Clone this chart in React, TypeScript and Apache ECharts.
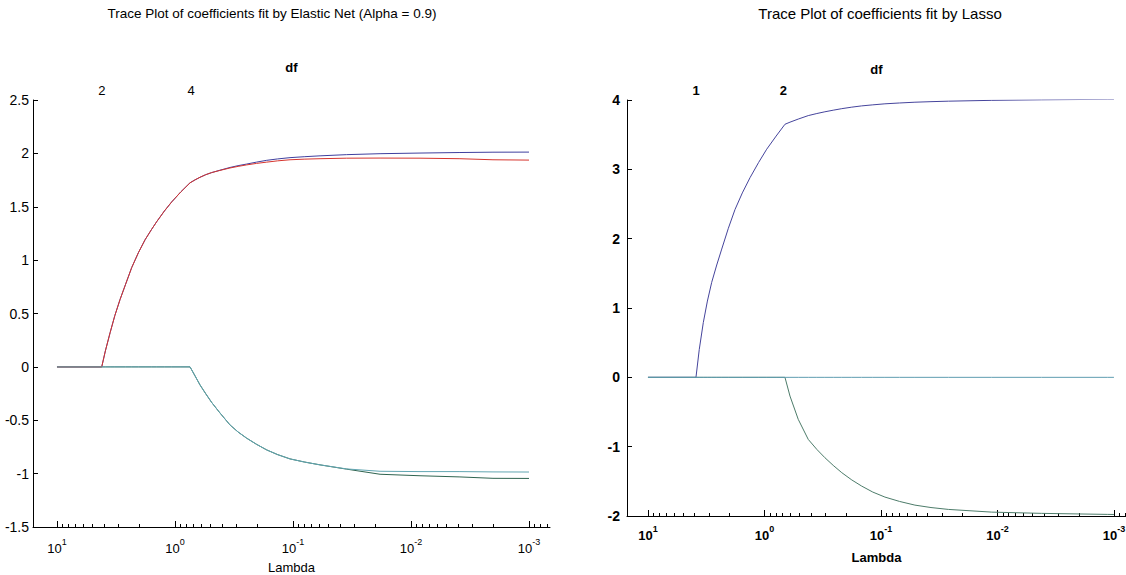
import React, { useEffect, useRef } from "react";
import * as echarts from "echarts";

const FONT = "'Liberation Sans', Arial, sans-serif";

// ---------- Left panel: Elastic Net (Alpha = 0.9) ----------
const lambdaEN = [10, 4.178, 3.89, 3.548, 3.236, 2.924, 2.63, 2.328, 2.042, 1.795, 1.585, 1.429, 1.23, 1.067, 0.891, 0.746, 0.676, 0.614, 0.55, 0.489, 0.417, 0.342, 0.292, 0.247, 0.204, 0.167, 0.135, 0.106, 0.0794, 0.059, 0.0351, 0.0183, 0.00839, 0.00385, 0.00202, 0.001];
const enBlue = [0, 0, 0.15, 0.32, 0.48, 0.63, 0.77, 0.93, 1.07, 1.19, 1.285, 1.36, 1.46, 1.545, 1.64, 1.724, 1.752, 1.776, 1.8, 1.82, 1.842, 1.868, 1.885, 1.9, 1.918, 1.935, 1.948, 1.96, 1.969, 1.977, 1.988, 1.997, 2.003, 2.008, 2.011, 2.012];
const enRed = [0, 0, 0.15, 0.32, 0.48, 0.63, 0.77, 0.93, 1.07, 1.19, 1.285, 1.36, 1.46, 1.545, 1.64, 1.724, 1.752, 1.776, 1.8, 1.82, 1.84, 1.863, 1.878, 1.892, 1.906, 1.918, 1.93, 1.94, 1.946, 1.95, 1.955, 1.956, 1.955, 1.95, 1.94, 1.937];
const enGreen = [0, 0, 0, 0, 0, 0, 0, 0, 0, 0, 0, 0, 0, 0, 0, 0, -0.085, -0.169, -0.25, -0.333, -0.43, -0.544, -0.61, -0.668, -0.725, -0.778, -0.822, -0.862, -0.892, -0.918, -0.958, -1.006, -1.02, -1.031, -1.044, -1.045];
const enCyan = [0, 0, 0, 0, 0, 0, 0, 0, 0, 0, 0, 0, 0, 0, 0, 0, -0.085, -0.169, -0.25, -0.333, -0.43, -0.544, -0.61, -0.668, -0.725, -0.778, -0.822, -0.862, -0.892, -0.918, -0.956, -0.978, -0.981, -0.981, -0.984, -0.985];
const dfLambdaEN = [4.2, 4.16, 0.731];
const dfLabelsEN = ["1", "2", "4"];

// ---------- Right panel: Lasso ----------
const lambdaLasso = [10, 3.873, 3.631, 3.35, 3.09, 2.838, 2.57, 2.328, 2.042, 1.791, 1.549, 1.33, 1.122, 0.957, 0.794, 0.667, 0.604, 0.513, 0.421, 0.355, 0.303, 0.257, 0.217, 0.178, 0.1466, 0.1175, 0.0925, 0.0692, 0.0511, 0.0372, 0.0264, 0.0112, 0.00418, 0.00113, 0.001];
const lassoBlue = [0, 0, 0.4, 0.79, 1.1, 1.37, 1.62, 1.85, 2.15, 2.42, 2.66, 2.88, 3.1, 3.29, 3.48, 3.65, 3.68, 3.725, 3.775, 3.805, 3.83, 3.853, 3.875, 3.897, 3.915, 3.93, 3.945, 3.957, 3.968, 3.976, 3.983, 3.995, 4.003, 4.01, 4.01];
const lassoGreen = [0, 0, 0, 0, 0, 0, 0, 0, 0, 0, 0, 0, 0, 0, 0, 0, -0.27, -0.606, -0.895, -1.04, -1.159, -1.27, -1.375, -1.48, -1.568, -1.655, -1.727, -1.79, -1.843, -1.878, -1.905, -1.944, -1.962, -1.977, -1.978];
const lassoCyan = [0, 0, 0, 0, 0, 0, 0, 0, 0, 0, 0, 0, 0, 0, 0, 0, 0, 0, 0, 0, 0, 0, 0, 0, 0, 0, 0, 0, 0, 0, 0, 0, 0, 0, 0];
const dfLambdaLasso = [3.87, 0.69];
const dfLabelsLasso = ["1", "2"];

// ---------- Axis ticks ----------
const xMajorTicks = [10, 1, 0.1, 0.01, 0.001];
const xMajorExp = ["1", "0", "-1", "-2", "-3"];
const xMinorMantissa = [2, 3, 4, 5, 6, 7, 8, 9];
const xMinorDecades = [1, 0.1, 0.01, 0.001, 0.0001];
const xMinorTicks: number[] = [];
xMinorDecades.forEach((d) => xMinorMantissa.forEach((m) => xMinorTicks.push(+(m * d).toPrecision(3))));

const COLORS = {
  blue: "#3f3f9e",
  red: "#d6352e",
  green: "#2f6450",
  cyan: "#62a6b2",
  lassoBlue: "#45449c",
  lassoGreen: "#4d7c6a",
  lassoCyan: "#5e9db0",
};

const pairs = (xs: number[], ys: number[]) => xs.map((x, i) => [x, ys[i]]);

function bottomAxis(gridIndex: number, min: number, max: number, bold: boolean, nameGap: number, margin: number) {
  return {
    type: "log",
    logBase: 10,
    gridIndex,
    position: "bottom",
    inverse: true,
    min,
    max,
    name: "Lambda",
    nameLocation: "middle",
    nameGap,
    nameTextStyle: { fontFamily: FONT, fontSize: 13, color: "#000", fontWeight: bold ? "bold" : "normal" },
    axisLine: { show: true, onZero: false, lineStyle: { color: "#000", width: 1 } },
    axisTick: { show: true, inside: true, length: 6, customValues: xMajorTicks, lineStyle: { color: "#000", width: 1 } },
    axisLabel: {
      customValues: xMajorTicks,
      margin,
      color: "#000",
      hideOverlap: false,
      formatter: (v: number) => {
        let best = 0;
        xMajorTicks.forEach((t, i) => {
          if (Math.abs(Math.log10(t) - Math.log10(v)) < Math.abs(Math.log10(xMajorTicks[best]) - Math.log10(v))) best = i;
        });
        return `{b|10}{s|${xMajorExp[best]}}`;
      },
      rich: {
        b: { fontFamily: FONT, fontSize: 13, lineHeight: 18, color: "#000", fontWeight: bold ? "bold" : "normal", verticalAlign: "bottom" },
        s: { fontFamily: FONT, fontSize: 9, lineHeight: 10, color: "#000", fontWeight: bold ? "bold" : "normal", verticalAlign: "top" },
      },
    },
    splitLine: { show: false },
  };
}

function minorAxis(gridIndex: number, min: number, max: number) {
  return {
    type: "log",
    logBase: 10,
    gridIndex,
    position: "bottom",
    inverse: true,
    min,
    max,
    axisLine: { show: false, onZero: false },
    axisTick: { show: true, inside: true, length: 3, customValues: xMinorTicks, lineStyle: { color: "#000", width: 1 } },
    axisLabel: { show: false },
    splitLine: { show: false },
  };
}

function dfAxis(gridIndex: number, min: number, max: number, values: number[], labels: string[], bold: boolean, nameGap: number) {
  return {
    type: "log",
    logBase: 10,
    gridIndex,
    position: "top",
    inverse: true,
    min,
    max,
    name: "df",
    nameLocation: "middle",
    nameGap,
    nameTextStyle: { fontFamily: FONT, fontSize: 13, color: "#000", fontWeight: "bold" },
    axisLine: { show: false, onZero: false },
    axisTick: { show: false },
    axisLabel: {
      customValues: values,
      margin: 3,
      fontFamily: FONT,
      fontSize: 13,
      color: "#000",
      fontWeight: bold ? "bold" : "normal",
      hideOverlap: false,
      formatter: (v: number) => {
        let best = 0;
        values.forEach((t, i) => {
          if (Math.abs(t - v) < Math.abs(values[best] - v)) best = i;
        });
        return labels[best];
      },
    },
    splitLine: { show: false },
  };
}

function valueAxis(gridIndex: number, min: number, max: number, interval: number, bold: boolean, margin: number) {
  return {
    type: "value",
    gridIndex,
    min,
    max,
    interval,
    axisLine: { show: true, onZero: false, lineStyle: { color: "#000", width: 1 } },
    axisTick: { show: true, inside: true, length: 5, lineStyle: { color: "#000", width: 1 } },
    axisLabel: { fontFamily: FONT, fontSize: 14, color: "#000", margin, fontWeight: bold ? "bold" : "normal" },
    splitLine: { show: false },
  };
}

function hiddenY(gridIndex: number) {
  return { type: "value", gridIndex, min: 0, max: 1, show: false };
}

function line(name: string, xAxisIndex: number, yAxisIndex: number, xs: number[], ys: number[], color: string) {
  return {
    name,
    type: "line",
    xAxisIndex,
    yAxisIndex,
    data: pairs(xs, ys),
    showSymbol: false,
    symbol: "none",
    lineStyle: { color, width: 1 },
    itemStyle: { color },
    z: 3,
  };
}

// extents (log axes)
const EN_MIN = 6.64e-4;
const EN_MAX = 15.97;
const LA_MIN = 7.88e-4;
const LA_MAX = 15.14;

const gridBase = { containLabel: false, outerBoundsMode: "none" };

const option = {
  animation: false,
  backgroundColor: "#fff",
  title: [
    {
      text: "Trace Plot of coefficients fit by Elastic Net (Alpha = 0.9)",
      left: 272,
      top: 6,
      textAlign: "center",
      padding: 0,
      textStyle: { fontFamily: FONT, fontSize: 13.5, fontWeight: "normal", color: "#000" },
    },
    {
      text: "Trace Plot of coefficients fit by Lasso",
      left: 880,
      top: 6,
      textAlign: "center",
      padding: 0,
      textStyle: { fontFamily: FONT, fontSize: 15, fontWeight: "normal", color: "#000" },
    },
  ],
  grid: [
    { ...gridBase, left: 33, top: 100, width: 517, height: 427 },
    { ...gridBase, left: 627, top: 100, width: 499, height: 416 },
    { ...gridBase, left: 33, top: 100, width: 517, height: 427 },
    { ...gridBase, left: 627, top: 100, width: 499, height: 416 },
  ],
  xAxis: [
    bottomAxis(0, EN_MIN, EN_MAX, false, 34, 10),
    dfAxis(0, EN_MIN, EN_MAX, dfLambdaEN, dfLabelsEN, false, 26),
    bottomAxis(1, LA_MIN, LA_MAX, true, 35, 8),
    dfAxis(1, LA_MIN, LA_MAX, dfLambdaLasso, dfLabelsLasso, true, 24),
    minorAxis(2, EN_MIN, EN_MAX),
    minorAxis(3, LA_MIN, LA_MAX),
  ],
  yAxis: [
    valueAxis(0, -1.5, 2.5, 0.5, false, 4),
    valueAxis(1, -2, 4, 1, true, 7),
    hiddenY(2),
    hiddenY(3),
  ],
  series: [
    line("EN coef 1", 0, 0, lambdaEN, enBlue, COLORS.blue),
    line("EN coef 2", 0, 0, lambdaEN, enGreen, COLORS.green),
    line("EN coef 3", 0, 0, lambdaEN, enRed, COLORS.red),
    line("EN coef 4", 0, 0, lambdaEN, enCyan, COLORS.cyan),
    line("Lasso coef 1", 2, 1, lambdaLasso, lassoBlue, COLORS.lassoBlue),
    line("Lasso coef 2", 2, 1, lambdaLasso, lassoGreen, COLORS.lassoGreen),
    line("Lasso coef 3", 2, 1, lambdaLasso, lassoCyan, COLORS.lassoCyan),
  ],
};

export default function App() {
  const ref = useRef<HTMLDivElement>(null);
  useEffect(() => {
    document.body.style.margin = "0";
    const chart = echarts.init(ref.current!, null, { renderer: "svg" });
    chart.setOption(option as any);
    return () => chart.dispose();
  }, []);
  return <div ref={ref} style={{ width: 1126, height: 575 }} />;
}
